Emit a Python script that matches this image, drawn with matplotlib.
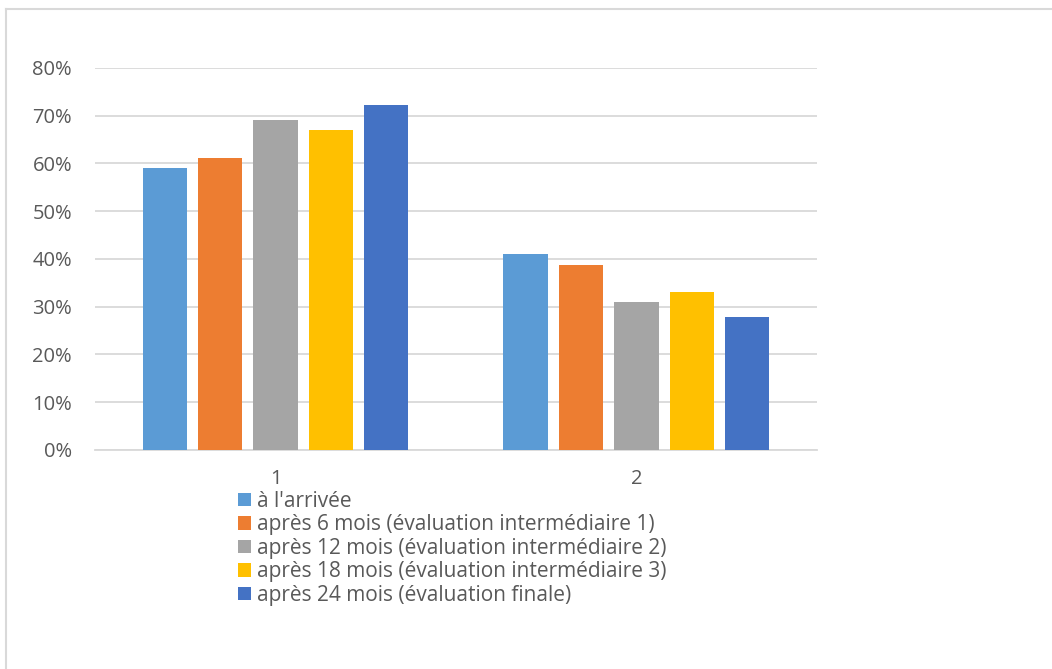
import numpy as np
import matplotlib.pyplot as plt
from matplotlib.lines import Line2D
from matplotlib.ticker import PercentFormatter

plt.rcParams["font.family"] = ["Open Sans", "DejaVu Sans"]

categories = ["1", "2"]
series_names = [
    "à l'arrivée",
    "après 6 mois (évaluation intermédiaire 1)",
    "après 12 mois (évaluation intermédiaire 2)",
    "après 18 mois (évaluation intermédiaire 3)",
    "après 24 mois (évaluation finale)",
]
arrivee = [0.59, 0.41]
mois_6 = [0.612, 0.388]
mois_12 = [0.69, 0.31]
mois_18 = [0.67, 0.33]
mois_24 = [0.722, 0.278]
colors = ["#5B9BD5", "#ED7D31", "#A5A5A5", "#FFC000", "#4472C4"]

values = [arrivee, mois_6, mois_12, mois_18, mois_24]

fig = plt.figure(figsize=(10.52, 6.69), dpi=100)
ax = fig.add_axes([0.0903, 0.3274, 0.6863, 0.571])

x = np.arange(len(categories))
width = 0.122
pitch = 0.1537
for i, (name, vals, col) in enumerate(zip(series_names, values, colors)):
    ax.bar(x + (i - 2) * pitch, vals, width, color=col, label=name, zorder=3)

ax.set_xlim(-0.5, 1.5)
ax.set_ylim(0, 0.8)
ax.set_yticks(np.arange(0, 0.81, 0.1))
ax.yaxis.set_major_formatter(PercentFormatter(1.0, decimals=0))
ax.set_xticks(x)
ax.set_xticklabels(categories)
ax.grid(axis="y", color="#D9D9D9", linewidth=1.3, zorder=0)
for side in ["top", "right", "left"]:
    ax.spines[side].set_visible(False)
ax.spines["bottom"].set_color("#D9D9D9")
ax.spines["bottom"].set_linewidth(1.3)
ax.tick_params(axis="both", length=0, labelsize=14.5, colors="#595959")
ax.tick_params(axis="y", pad=16.5)
ax.tick_params(axis="x", pad=14)

leg = fig.legend(
    loc="upper left",
    bbox_to_anchor=(0.2266, 0.2665),
    frameon=False,
    fontsize=15,
    labelcolor="#595959",
    handlelength=0.62,
    handleheight=0.62,
    handletextpad=0.25,
    labelspacing=0.12,
    borderaxespad=0,
    borderpad=0,
)

# outer chart frame
fig.add_artist(Line2D([0.0055, 1.0], [0.9865, 0.9865], color="#D9D9D9", linewidth=1.5))
fig.add_artist(Line2D([0.0055, 0.0055], [0.0, 0.9865], color="#D9D9D9", linewidth=1.5))

fig.savefig("out.png", dpi=100)
